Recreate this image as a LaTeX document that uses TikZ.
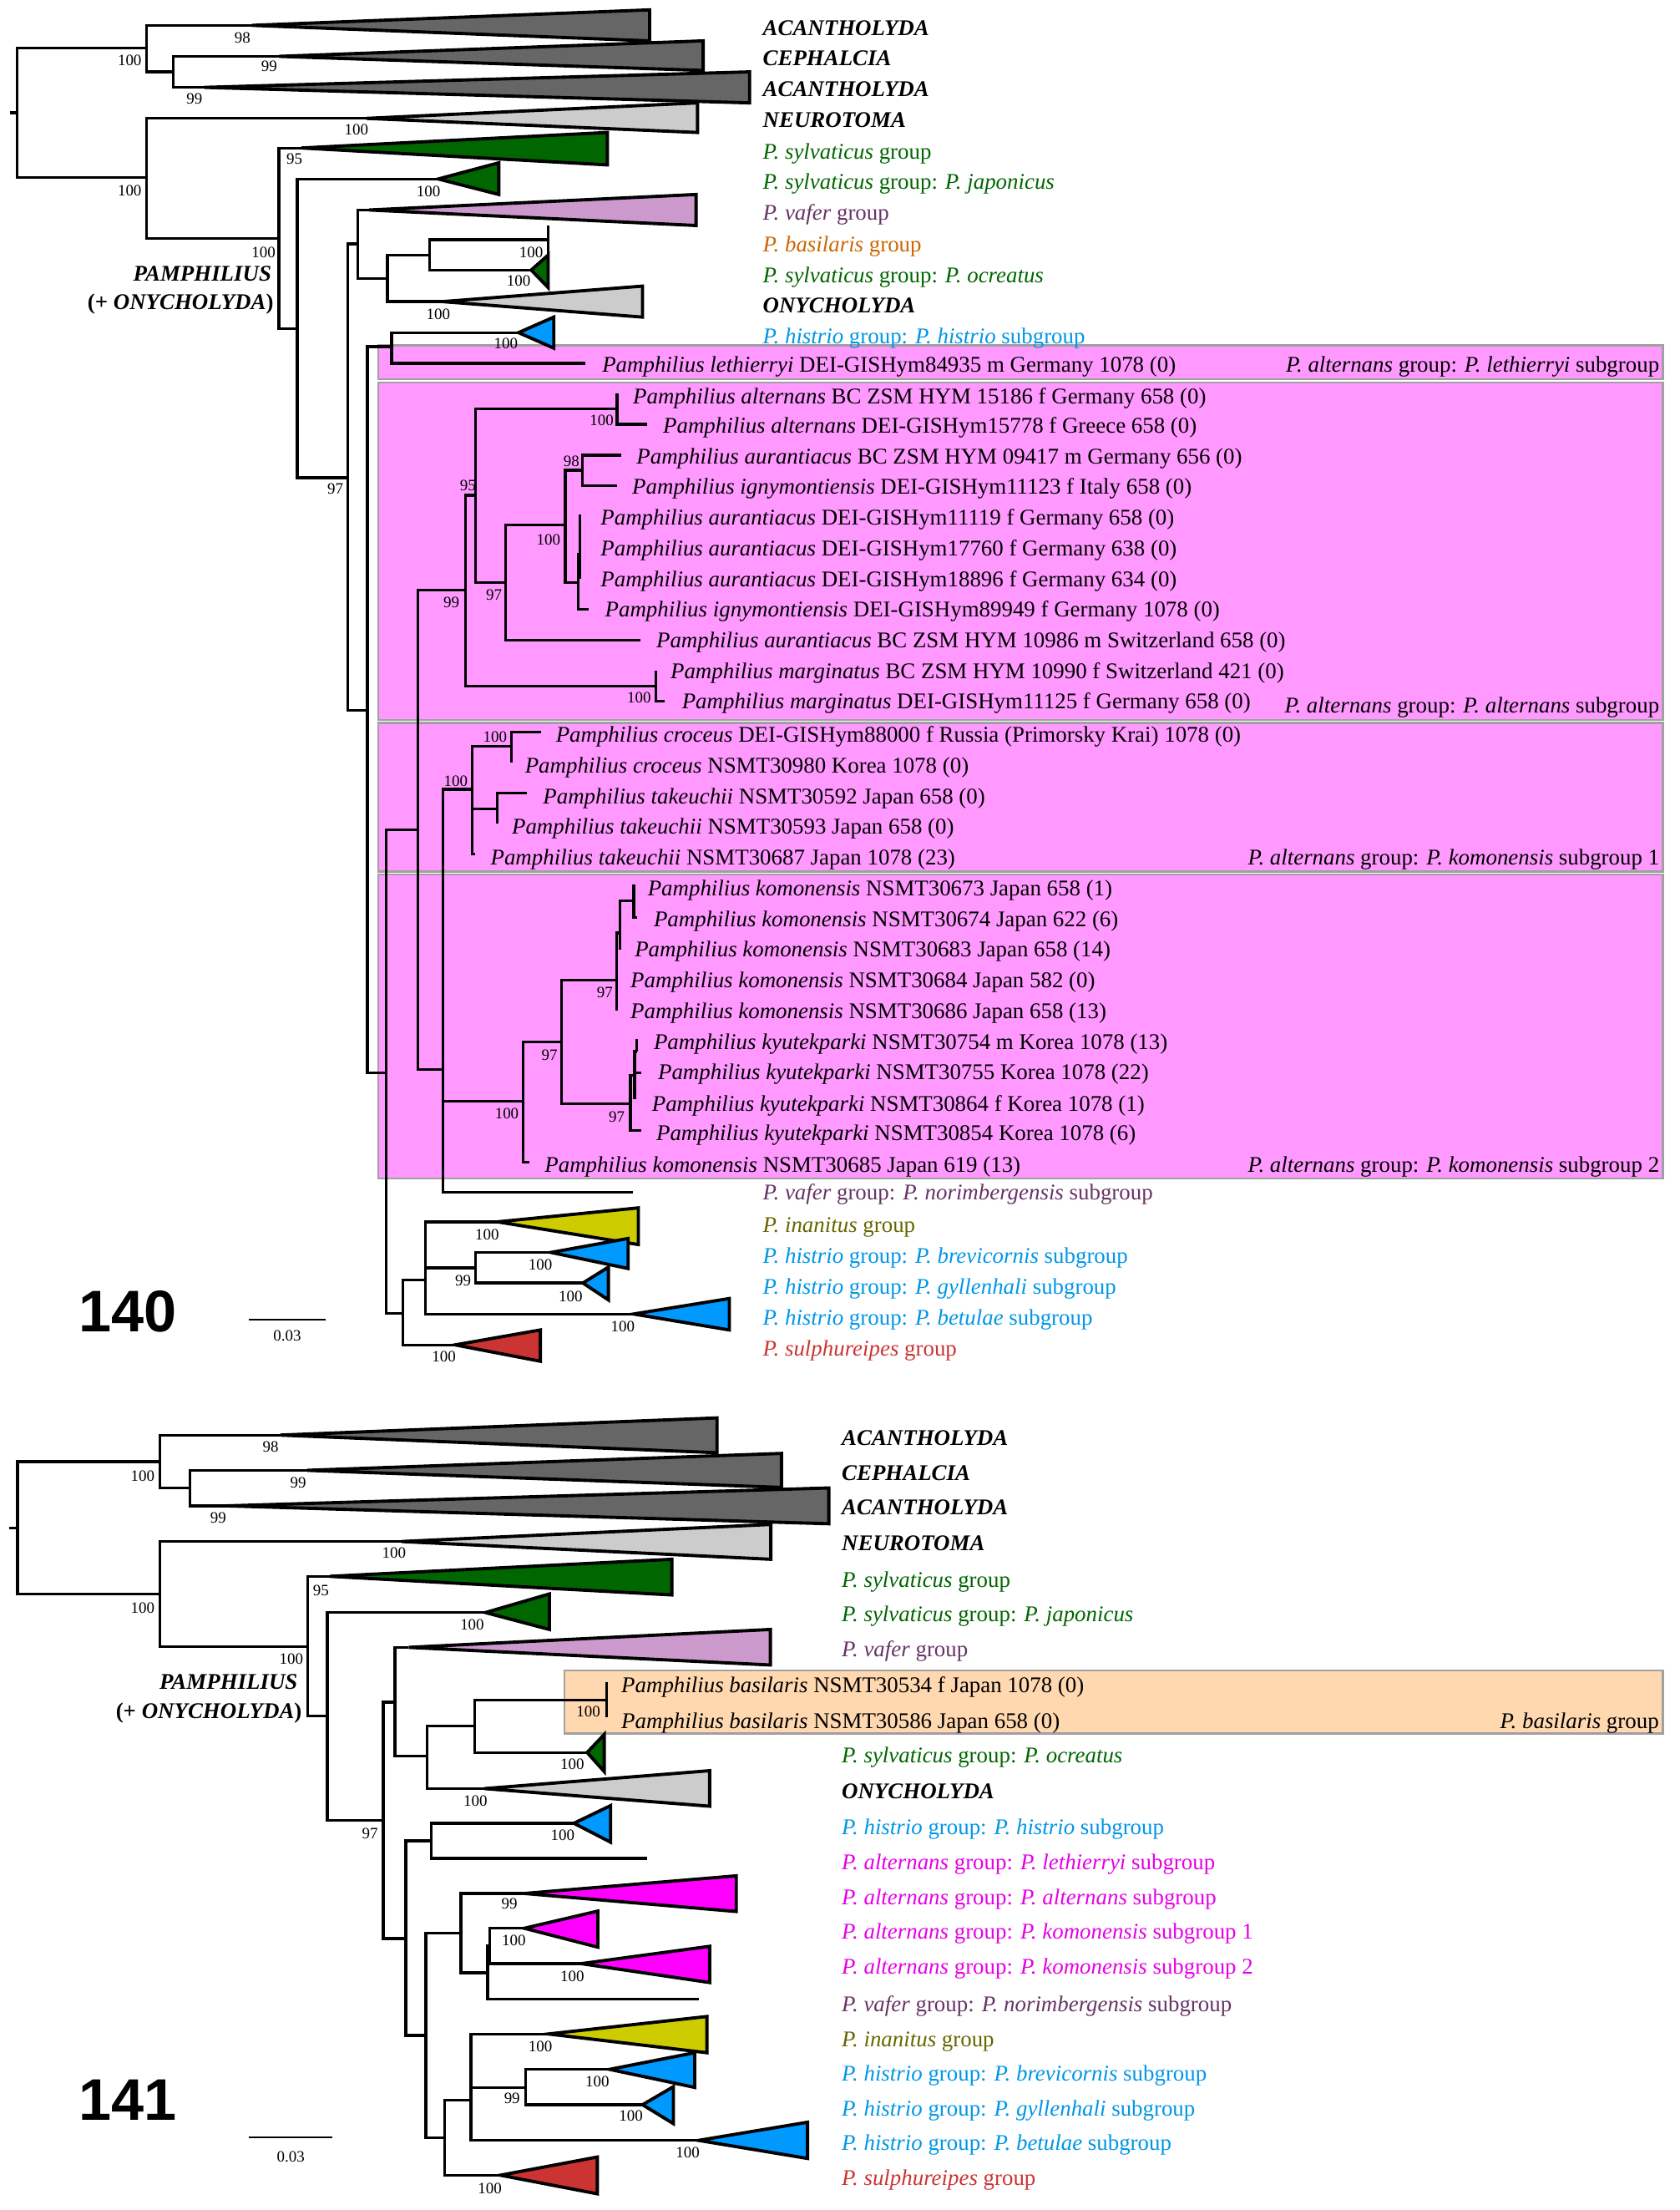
\documentclass[tikz,border=0pt]{standalone}
\usepackage{fontspec}
\setmainfont{Liberation Serif}
\setsansfont{Liberation Sans}
\usepackage{tikz}

\definecolor{cladedark}{HTML}{666666}
\definecolor{cladelight}{HTML}{CCCCCC}
\definecolor{sylgreen}{HTML}{006600}
\definecolor{vafpink}{HTML}{CC99CC}
\definecolor{vaftext}{HTML}{663366}
\definecolor{basorange}{HTML}{CC6600}
\definecolor{hisblue}{HTML}{0099FF}
\definecolor{histext}{HTML}{0096E6}
\definecolor{altpink}{HTML}{FF99FF}
\definecolor{altmag}{HTML}{FF00FF}
\definecolor{alttext}{HTML}{E600E6}
\definecolor{inaolive}{HTML}{CCCC00}
\definecolor{inatext}{HTML}{666600}
\definecolor{sulred}{HTML}{CC3333}
\definecolor{baspeach}{HTML}{FFD8B0}
\definecolor{boxgray}{HTML}{A0A0A0}

\newcommand{\pam}[1]{\textit{Pamphilius #1}}
\newcommand{\Pp}[1]{\textit{P. #1}}
\newcommand{\gen}[1]{\textbf{\textit{#1}}}

\begin{document}
\begin{tikzpicture}[x=0.01688cm,y=-0.01688cm,
  branch/.style={line width=0.95pt}, clade/.style={line width=1.1pt},
  hilite/.style={draw=boxgray,line width=0.7pt},
  taxon/.style={anchor=west,inner sep=0pt,text height=0.7em,text depth=0.2em,
    font=\fontsize{7.65}{9}\selectfont},
  group/.style={taxon,anchor=east},
  boot/.style={inner sep=0pt,font=\fontsize{5.4}{6}\selectfont},
  fig/.style={inner sep=0pt,font=\fontsize{20}{24}\selectfont\sffamily\bfseries}]
  \useasboundingbox (0,0) rectangle (1192,1568);

  % ---------------- 140 ----------------
  \filldraw[hilite,fill=altpink] (268.5,245) rectangle (1180,269.2);
  \filldraw[hilite,fill=altpink] (268.5,271.5) rectangle (1180,510.9);
  \filldraw[hilite,fill=altpink] (268.5,512.8) rectangle (1180,618.4);
  \filldraw[hilite,fill=altpink] (268.5,620.6) rectangle (1180,836);

  \coordinate (rtick) at (7,80);   \coordinate (root) at (12,80);
  \coordinate (nA) at (104,34);    \coordinate (nB) at (123,51);
  \coordinate (nC) at (104,126);   \coordinate (nD) at (198,169);
  \coordinate (nE) at (211,233);   \coordinate (nF) at (247,339);
  \coordinate (nG) at (254,173);   \coordinate (nH) at (260.7,504);
  \coordinate (nI) at (275,197.5); \coordinate (nJ) at (305,181);
  \coordinate (nK) at (274,761);   \coordinate (nL) at (296.5,588.8);
  \coordinate (nM) at (314.4,758.9); \coordinate (nN) at (335,559.9);
  \coordinate (nO) at (371.2,781.2); \coordinate (nP) at (278,246);
  \coordinate (nQ) at (286,932);   \coordinate (nR) at (330.4,418.6);
  \coordinate (nS) at (302,908);   \coordinate (nT) at (337.4,899.5);
  \coordinate (nU) at (337.5,351.5); \coordinate (nV) at (358.8,413.3);
  \coordinate (nW) at (437.9,289.9); \coordinate (nX) at (401.1,372.6);
  \coordinate (nY) at (413.2,333.7); \coordinate (nZ) at (410.2,413.3);
  \coordinate (nZb) at (411.5,393); \coordinate (nMg) at (465.4,486.8);
  \coordinate (nCr) at (362.8,529.6); \coordinate (nTk) at (352.8,574.1);
  \coordinate (nOb) at (398.4,739.1); \coordinate (nKa) at (437.7,695.3);
  \coordinate (nKb) at (439.8,662); \coordinate (nKp) at (449.8,639.2);
  \coordinate (nKy) at (447.4,783); \coordinate (nKz) at (450.4,763);
  \coordinate (nKw) at (452,746);

  \coordinate (acan1) at (179,18); \coordinate (ceph) at (198,40);
  \coordinate (acan2) at (145,62); \coordinate (neur) at (260,84);
  \coordinate (sylv) at (214,105); \coordinate (japo) at (311,127);
  \coordinate (vafe) at (262,149); \coordinate (basi) at (389,170);
  \coordinate (ocre) at (377,191.6); \coordinate (onyc) at (314,214);
  \coordinate (hist) at (368,236); \coordinate (leth) at (415.6,257.7);
  \coordinate (basit) at (389,160); \coordinate (basib) at (389,181);
  \coordinate (t15186) at (437.9,279); \coordinate (t15778) at (459.2,301.1);
  \coordinate (t09417) at (441,322.9); \coordinate (t11123) at (437.9,344.6);
  \coordinate (t11119) at (411.5,365.3); \coordinate (t18896) at (411.5,410.6);
  \coordinate (t89949) at (417.8,432.4); \coordinate (t10986) at (454.4,454.2);
  \coordinate (t10990) at (465.4,475.9); \coordinate (t11125) at (471.4,497.6);
  \coordinate (t88000) at (383.9,519.5); \coordinate (t30980) at (362.8,541.3);
  \coordinate (t30592) at (374.2,562.8); \coordinate (t30593) at (352.8,584);
  \coordinate (t30687) at (337,605.9);
  \coordinate (t30673) at (449.8,627.8); \coordinate (t30674) at (452,650.8);
  \coordinate (t30683) at (439.8,673.9); \coordinate (t30686) at (437.7,717.3);
  \coordinate (t30754) at (452,737); \coordinate (t30755) at (455,761);
  \coordinate (t30864) at (450.4,780); \coordinate (t30854) at (455,802);
  \coordinate (t30685) at (375.8,824.6); \coordinate (nori) at (449,845.9);
  \coordinate (inan) at (353,866.9); \coordinate (brev) at (391,888.6);
  \coordinate (gyll) at (413.7,910.3); \coordinate (betu) at (449.6,932.3);
  \coordinate (sulp) at (323,954.2);

  \draw[branch] (rtick) -- (root);
  \draw[branch] (basit) -- (basib);
  \foreach \pa/\ch in {root/nA,root/nC,nA/acan1,nA/nB,nB/ceph,nB/acan2,
    nC/neur,nC/nD,nD/sylv,nD/nE,nE/japo,nE/nF,nF/nG,nF/nH,nG/vafe,nG/nI,
    nI/nJ,nI/onyc,nJ/basi,nJ/ocre,nH/nP,nH/nK,nP/hist,nP/leth,nK/nL,nK/nQ,
    nL/nR,nL/nM,nR/nU,nR/nMg,nU/nW,nU/nV,nW/t15186,nW/t15778,nV/nX,nV/t10986,
    nX/nY,nX/nZ,nY/t09417,nY/t11123,nZ/nZb,nZ/t89949,nZb/t11119,nZb/t18896,
    nMg/t10990,nMg/t11125,nM/nN,nM/nO,nM/nori,nN/nCr,nN/nTk,nN/t30687,
    nCr/t88000,nCr/t30980,nTk/t30592,nTk/t30593,nO/nOb,nO/t30685,nOb/nKa,
    nOb/nKy,nKa/nKb,nKa/t30686,nKb/nKp,nKb/t30683,nKp/t30673,nKp/t30674,
    nKy/nKz,nKy/t30854,nKz/nKw,nKz/t30755,nKz/t30864,nKw/t30754,
    nQ/nS,nQ/sulp,nS/inan,nS/nT,nS/betu,nT/brev,nT/gyll}
    {\draw[branch] (\pa) |- (\ch);}

  % collapsed clades
  \foreach \ap/\rx/\ty/\by/\fc in {acan1/461/7/29/cladedark,
    ceph/499/29/50/cladedark,acan2/532/51/73/cladedark,
    neur/495/73/94/cladelight,sylv/431/94/117/sylgreen,
    japo/354/115.5/138/sylgreen,vafe/494/138/160/vafpink,
    ocre/389/181/204/sylgreen,onyc/456/203/225/cladelight,
    hist/393/225/247/hisblue,inan/453/857/883/inaolive,
    brev/445.8/878.7/900/hisblue,gyll/431.8/899/922.3/hisblue,
    betu/517.6/921.3/943.6/hisblue,sulp/383.5/943.6/965.8/sulred}
    {\filldraw[clade,fill=\fc] (\ap) -- (\rx,\ty) -- (\rx,\by) -- cycle;}

  \foreach \x/\y/\v [count=\i] in {172/27/98,92/43/100,191/47/99,138/70/99,
    92/135/100,253/92/100,209/113/95,187/179/100,304/136/100,238/347/97,
    377/179/100,368/199.5/100,311/223/100,359/244/100,427/298.2/100,
    405.6/327.4/98,332/344.6/95,389.2/382.9/100,350.6/422.2/97,320.4/427.5/99,
    453.6/494.7/100,351.3/523.1/100,323.5/554.4/100,429.3/704.1/97,
    390/748.9/97,437.7/792.3/97,359.7/790.1/100,345.7/876/100,
    383.5/897.5/100,328.7/908.4/99,405/919.8/100,442/941/100,315/962.6/100}
    {\node[boot] (bs\i) at (\x,\y) {\v};}

  \node[taxon,anchor=east] (pam1) at (193,194.5) {\gen{PAMPHILIUS}};
  \node[taxon,anchor=east] (ony1) at (194.5,214.3) {\textbf{(+ \textit{ONYCHOLYDA})}};

  \foreach \y/\t/\fc [count=\i] in {19.7/{\gen{ACANTHOLYDA}}/black,
    41.5/{\gen{CEPHALCIA}}/black,63.2/{\gen{ACANTHOLYDA}}/black,
    84.9/{\gen{NEUROTOMA}}/black,107.6/{\Pp{sylvaticus} group}/sylgreen,
    129.3/{\Pp{sylvaticus} group: \Pp{japonicus}}/sylgreen,
    151.1/{\Pp{vafer} group}/vaftext,173.2/{\Pp{basilaris} group}/basorange,
    195.5/{\Pp{sylvaticus} group: \Pp{ocreatus}}/sylgreen,
    216.6/{\gen{ONYCHOLYDA}}/black,
    238.4/{\Pp{histrio} group: \Pp{histrio} subgroup}/histext,
    846.2/{\Pp{vafer} group: \Pp{norimbergensis} subgroup}/vaftext,
    868.9/{\Pp{inanitus} group}/inatext,
    890.9/{\Pp{histrio} group: \Pp{brevicornis} subgroup}/histext,
    913.3/{\Pp{histrio} group: \Pp{gyllenhali} subgroup}/histext,
    935/{\Pp{histrio} group: \Pp{betulae} subgroup}/histext,
    956.7/{\Pp{sulphureipes} group}/sulred}
    {\node[taxon,text=\fc] (ga\i) at (541,\y) {\t};}

  \foreach \x/\y/\t [count=\i] in {
    427/258.7/{\pam{lethierryi} DEI-GISHym84935 m Germany 1078 (0)},
    448.9/281.4/{\pam{alternans} BC ZSM HYM 15186 f Germany 658 (0)},
    470.2/302.2/{\pam{alternans} DEI-GISHym15778 f Greece 658 (0)},
    451.4/324/{\pam{aurantiacus} BC ZSM HYM 09417 m Germany 656 (0)},
    448.3/345.6/{\pam{ignymontiensis} DEI-GISHym11123 f Italy 658 (0)},
    425.9/367.4/{\pam{aurantiacus} DEI-GISHym11119 f Germany 658 (0)},
    425.9/389.1/{\pam{aurantiacus} DEI-GISHym17760 f Germany 638 (0)},
    425.9/410.8/{\pam{aurantiacus} DEI-GISHym18896 f Germany 634 (0)},
    429/432.5/{\pam{ignymontiensis} DEI-GISHym89949 f Germany 1078 (0)},
    465.4/454.3/{\pam{aurantiacus} BC ZSM HYM 10986 m Switzerland 658 (0)},
    475.5/476/{\pam{marginatus} BC ZSM HYM 10990 f Switzerland 421 (0)},
    483.6/497.7/{\pam{marginatus} DEI-GISHym11125 f Germany 658 (0)},
    394.1/521.5/{\pam{croceus} DEI-GISHym88000 f Russia (Primorsky Krai) 1078 (0)},
    372.2/543.4/{\pam{croceus} NSMT30980 Korea 1078 (0)},
    385/565.3/{\pam{takeuchii} NSMT30592 Japan 658 (0)},
    362.9/586.6/{\pam{takeuchii} NSMT30593 Japan 658 (0)},
    347.8/608.5/{\pam{takeuchii} NSMT30687 Japan 1078 (23)},
    459.3/630.1/{\pam{komonensis} NSMT30673 Japan 658 (1)},
    463.6/652/{\pam{komonensis} NSMT30674 Japan 622 (6)},
    450.1/673.9/{\pam{komonensis} NSMT30683 Japan 658 (14)},
    447.1/695.4/{\pam{komonensis} NSMT30684 Japan 582 (0)},
    447.1/717.3/{\pam{komonensis} NSMT30686 Japan 658 (13)},
    463.6/739.1/{\pam{kyutekparki} NSMT30754 m Korea 1078 (13)},
    466.6/761/{\pam{kyutekparki} NSMT30755 Korea 1078 (22)},
    462.3/783/{\pam{kyutekparki} NSMT30864 f Korea 1078 (1)},
    465.4/804.2/{\pam{kyutekparki} NSMT30854 Korea 1078 (6)},
    386.2/826.2/{\pam{komonensis} NSMT30685 Japan 619 (13)}}
    {\node[taxon] (sa\i) at (\x,\y) {\t};}

  \foreach \y/\t [count=\i] in {
    258.7/{\Pp{alternans} group: \Pp{lethierryi} subgroup},
    500.6/{\Pp{alternans} group: \Pp{alternans} subgroup},
    608.5/{\Pp{alternans} group: \Pp{komonensis} subgroup 1},
    826.2/{\Pp{alternans} group: \Pp{komonensis} subgroup 2}}
    {\node[group] (sg\i) at (1178,\y) {\t};}

  \node[fig] (num1) at (90.7,930.7) {140};
  \coordinate (sbl1) at (176.4,936.4); \coordinate (sbr1) at (231.2,936.4);
  \draw[line width=0.6pt] (sbl1) -- (sbr1);
  \node[boot] (sbt1) at (203.8,948) {0.03};

  % ---------------- 141 ----------------
  \filldraw[hilite,fill=baspeach] (400.5,1185.2) rectangle (1180,1230);

  \coordinate (rtick2) at (6.8,1084.2); \coordinate (root2) at (12.5,1084.2);
  \coordinate (nA2) at (113.3,1037.1); \coordinate (nB2) at (134.9,1055.7);
  \coordinate (nC2) at (113.3,1130.9); \coordinate (nD2) at (218.4,1168.2);
  \coordinate (nE2) at (232.3,1217.5); \coordinate (nF2) at (272,1291.4);
  \coordinate (nG2) at (280.3,1207.6); \coordinate (nH2) at (287.9,1375.4);
  \coordinate (nI2) at (303,1246);     \coordinate (nJ2) at (337,1224.7);
  \coordinate (nP2) at (306,1306);     \coordinate (nK2) at (302.2,1444.1);
  \coordinate (nL2) at (327.2,1371.4); \coordinate (nM2) at (346,1399.7);
  \coordinate (nN2) at (347.6,1380.3); \coordinate (nQ2) at (315.5,1516.6);
  \coordinate (nS2) at (334.3,1489.9); \coordinate (nT2) at (372.9,1481);

  \coordinate (acan12) at (199,1018.2); \coordinate (ceph2) at (218,1043.2);
  \coordinate (acan22) at (161,1068.4); \coordinate (neur2) at (285,1093.7);
  \coordinate (sylv2) at (234,1118.4); \coordinate (japo2) at (344.5,1144.1);
  \coordinate (vafe2) at (290,1168.8); \coordinate (basi2) at (430.7,1206.1);
  \coordinate (ocre2) at (416.7,1243.4); \coordinate (onyc2) at (343.8,1269);
  \coordinate (hist2) at (407.3,1293.6); \coordinate (leth2) at (459,1318.5);
  \coordinate (alte2) at (372.1,1343.4); \coordinate (kom12) at (372.1,1368.1);
  \coordinate (kom22) at (412.5,1393.2); \coordinate (nori2) at (496,1418.4);
  \coordinate (inan2) at (389.1,1443.1); \coordinate (brev2) at (432.6,1468.2);
  \coordinate (gyll2) at (456,1493.3); \coordinate (betu2) at (495.7,1518.6);
  \coordinate (sulp2) at (355.1,1543.3);
  \coordinate (basit2) at (430.7,1193.4); \coordinate (basib2) at (430.7,1218.6);

  \draw[branch] (rtick2) -- (root2);
  \draw[branch] (basit2) -- (basib2);
  \foreach \pa/\ch in {root2/nA2,root2/nC2,nA2/acan12,nA2/nB2,nB2/ceph2,
    nB2/acan22,nC2/neur2,nC2/nD2,nD2/sylv2,nD2/nE2,nE2/japo2,nE2/nF2,
    nF2/nG2,nF2/nH2,nG2/vafe2,nG2/nI2,nI2/nJ2,nI2/onyc2,nJ2/basi2,nJ2/ocre2,
    nH2/nP2,nH2/nK2,nP2/hist2,nP2/leth2,nK2/nL2,nK2/nQ2,nL2/alte2,nL2/nM2,
    nM2/nN2,nM2/nori2,nN2/kom12,nN2/kom22,nQ2/nS2,nQ2/sulp2,nS2/inan2,
    nS2/nT2,nS2/betu2,nT2/brev2,nT2/gyll2}
    {\draw[branch] (\pa) |- (\ch);}

  \foreach \ap/\rx/\ty/\by/\fc in {acan12/508.9/1006/1030.7/cladedark,
    ceph2/554.6/1031.2/1055.3/cladedark,acan22/588.2/1055.7/1081.1/cladedark,
    neur2/547/1081.6/1106.3/cladelight,sylv2/476.8/1106.3/1131.6/sylgreen,
    japo2/389.9/1130.9/1156.1/sylgreen,vafe2/546.7/1156.1/1181.3/vafpink,
    ocre2/428.8/1230.6/1256.9/sylgreen,onyc2/503.6/1256.3/1281.5/cladelight,
    hist2/433.3/1281.1/1307/hisblue,alte2/522.5/1330.9/1356.2/altmag,
    kom12/424.3/1355.9/1381.5/altmag,kom22/503.6/1380.9/1406.6/altmag,
    inan2/501.7/1430.7/1456.4/inaolive,brev2/493/1456.4/1481/hisblue,
    gyll2/477.9/1480.5/1506.7/hisblue,betu2/573.1/1505.7/1531.4/hisblue,
    sulp2/423.9/1530.4/1556.5/sulred}
    {\filldraw[clade,fill=\fc] (\ap) -- (\rx,\ty) -- (\rx,\by) -- cycle;}

  \foreach \x/\y/\v [count=\i] in {192/1026.8/98,101.2/1047.2/100,
    211.6/1052/99,154.9/1077.2/99,101.2/1140.7/100,279.6/1101.9/100,
    227.8/1128.3/95,206.7/1176.9/100,335.1/1152.8/100,262.6/1300.7/97,
    417.5/1214.2/100,406.1/1251.9/100,337.4/1277.8/100,399.3/1302/100,
    361.5/1350.7/99,364.6/1376.7/100,406.1/1402.1/100,383.5/1451.8/100,
    423.9/1476.6/100,363.4/1488.9/99,447.7/1501.4/100,488.1/1527.1/100,
    347.6/1552.6/100}
    {\node[boot] (bt\i) at (\x,\y) {\v};}

  \node[taxon,anchor=east] (pam2) at (211.6,1193.3) {\gen{PAMPHILIUS}};
  \node[taxon,anchor=east] (ony2) at (214.6,1213.8) {\textbf{(+ \textit{ONYCHOLYDA})}};

  \foreach \y/\t/\fc [count=\i] in {1020.2/{\gen{ACANTHOLYDA}}/black,
    1045/{\gen{CEPHALCIA}}/black,1069.6/{\gen{ACANTHOLYDA}}/black,
    1095.2/{\gen{NEUROTOMA}}/black,1121/{\Pp{sylvaticus} group}/sylgreen,
    1145.2/{\Pp{sylvaticus} group: \Pp{japonicus}}/sylgreen,
    1170/{\Pp{vafer} group}/vaftext,
    1245.4/{\Pp{sylvaticus} group: \Pp{ocreatus}}/sylgreen,
    1270.8/{\gen{ONYCHOLYDA}}/black,
    1296.5/{\Pp{histrio} group: \Pp{histrio} subgroup}/histext,
    1321.1/{\Pp{alternans} group: \Pp{lethierryi} subgroup}/alttext,
    1345.9/{\Pp{alternans} group: \Pp{alternans} subgroup}/alttext,
    1370.6/{\Pp{alternans} group: \Pp{komonensis} subgroup 1}/alttext,
    1395.3/{\Pp{alternans} group: \Pp{komonensis} subgroup 2}/alttext,
    1422/{\Pp{vafer} group: \Pp{norimbergensis} subgroup}/vaftext,
    1446.7/{\Pp{inanitus} group}/inatext,
    1471.4/{\Pp{histrio} group: \Pp{brevicornis} subgroup}/histext,
    1496.1/{\Pp{histrio} group: \Pp{gyllenhali} subgroup}/histext,
    1520.7/{\Pp{histrio} group: \Pp{betulae} subgroup}/histext,
    1545.4/{\Pp{sulphureipes} group}/sulred}
    {\node[taxon,text=\fc] (gb\i) at (597,\y) {\t};}

  \node[taxon] (sb1) at (440.6,1195.6) {\pam{basilaris} NSMT30534 f Japan 1078 (0)};
  \node[taxon] (sb2) at (440.6,1220.9) {\pam{basilaris} NSMT30586 Japan 658 (0)};
  \node[group] (sbg) at (1177.7,1220.9) {\Pp{basilaris} group};

  \node[fig] (num2) at (90.7,1489.9) {141};
  \coordinate (sbl2) at (176.4,1516.6); \coordinate (sbr2) at (236.1,1516.6);
  \draw[line width=0.6pt] (sbl2) -- (sbr2);
  \node[boot] (sbt2) at (206.3,1530.4) {0.03};

\end{tikzpicture}
\end{document}
